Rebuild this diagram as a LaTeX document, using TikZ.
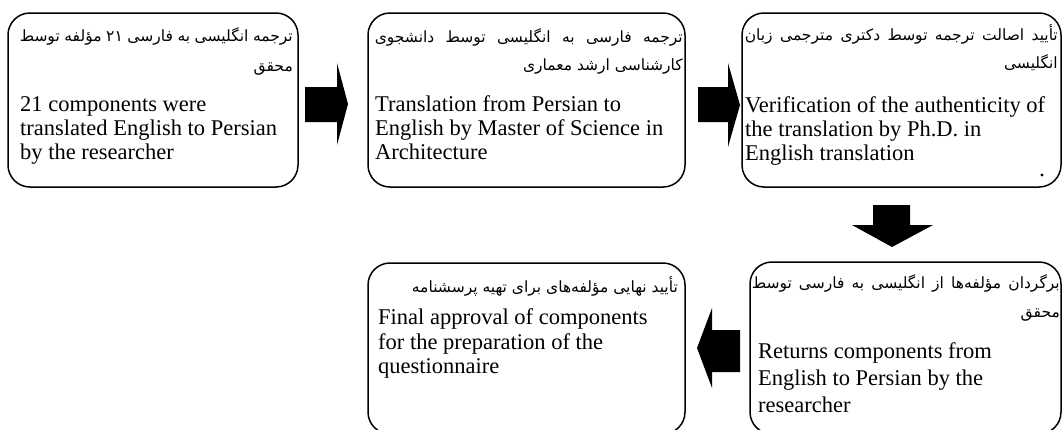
\documentclass[tikz,border=0pt]{standalone}
\usepackage{fontspec}
\setmainfont{Liberation Serif}
\newfontfamily\fa[Script=Arabic]{DejaVu Sans}
\TeXXeTstate=1
\tikzset{
  box/.style={draw, line width=1.5pt, rounded corners=22pt, inner sep=0pt},
  fatxt/.style={anchor=base east, inner sep=0pt, font=\fa\fontsize{15.5}{17}\selectfont},
  entxt/.style={anchor=base west, inner sep=0pt, font=\fontsize{22.5}{24}\selectfont},
  blk/.style={fill=black, draw=none},
}
\begin{document}
\begin{tikzpicture}[x=1pt, y=-1pt]
\useasboundingbox (0,0) rectangle (1062,429);
\clip (0,0) rectangle (1062,429);
% boxes
\node[box, minimum width=290pt, minimum height=174pt] (b1) at (153,100) {};
\node[box, minimum width=317pt, minimum height=174pt] (b2) at (526.5,100) {};
\node[box, minimum width=319pt, minimum height=174pt] (b3) at (901.5,100) {};
\node[box, minimum width=311pt, minimum height=172pt] (b4) at (905.5,348) {};
\node[box, minimum width=317pt, minimum height=171pt] (b5) at (526.5,348.5) {};
% box 1 text
\node[fatxt] (p1a) at (293,41) {\makebox[273pt][s]{\beginR ترجمه انگلیسی به فارسی ۲۱ مؤلفه توسط\endR}};
\node[fatxt] (p1b) at (293,71) {\beginR محقق\endR};
\node[entxt] (e1a) at (20,111) {21 components were};
\node[entxt] (e1b) at (20,135) {translated English to Persian};
\node[entxt] (e1c) at (20,159) {by the researcher};
% box 2 text
\node[fatxt] (p2a) at (683,42) {\makebox[308pt][s]{\beginR ترجمه فارسی به انگلیسی توسط دانشجوی\endR}};
\node[fatxt] (p2b) at (683,70) {\beginR کارشناسی ارشد معماری\endR};
\node[entxt] (e2a) at (375,111) {Translation from Persian to};
\node[entxt] (e2b) at (375,135) {English by Master of Science in};
\node[entxt] (e2c) at (375,159) {Architecture};
% box 3 text
\node[fatxt] (p3a) at (1058,40) {\makebox[313pt][s]{\beginR تأیید اصالت ترجمه توسط دکتری مترجمی زبان\endR}};
\node[fatxt] (p3b) at (1058,68) {\beginR انگلیسی\endR};
\node[entxt] (e3a) at (745,112) {Verification of the authenticity of};
\node[entxt] (e3b) at (745,136) {the translation by Ph.D. in};
\node[entxt] (e3c) at (745,160) {English translation};
\fill (1042,175) circle (1.6pt);
% box 4 text
\node[fatxt] (p4a) at (1060,288) {\makebox[308pt][s]{\beginR برگردان مؤلفه‌ها از انگلیسی به فارسی توسط\endR}};
\node[fatxt] (p4b) at (1060,317) {\beginR محقق\endR};
\node[entxt] (e4a) at (758,358) {Returns components from};
\node[entxt] (e4b) at (758,385) {English to Persian by the};
\node[entxt] (e4c) at (758,412) {researcher};
% box 5 text
\node[fatxt] (p5a) at (678,292) {\beginR تأیید نهایی مؤلفه‌های برای تهیه پرسشنامه\endR};
\node[entxt] (e5a) at (378,324) {Final approval of components};
\node[entxt] (e5b) at (378,349) {for the preparation of the};
\node[entxt] (e5c) at (378,373) {questionnaire};
% block arrows
\fill[blk] (305,87) -- (337,87) -- (337,63) -- (348,104) -- (337,145) -- (337,122) -- (305,122) -- cycle;
\fill[blk] (698,87) -- (728,87) -- (728,63) -- (740,105) -- (728,147) -- (728,122) -- (698,122) -- cycle;
\fill[blk] (873,205) -- (910,205) -- (910,225) -- (933,225) -- (892,247) -- (852,225) -- (873,225) -- cycle;
\fill[blk] (740,330) -- (712,330) -- (712,308) -- (697,348) -- (712,388) -- (712,372) -- (740,372) -- cycle;
\end{tikzpicture}
\end{document}
